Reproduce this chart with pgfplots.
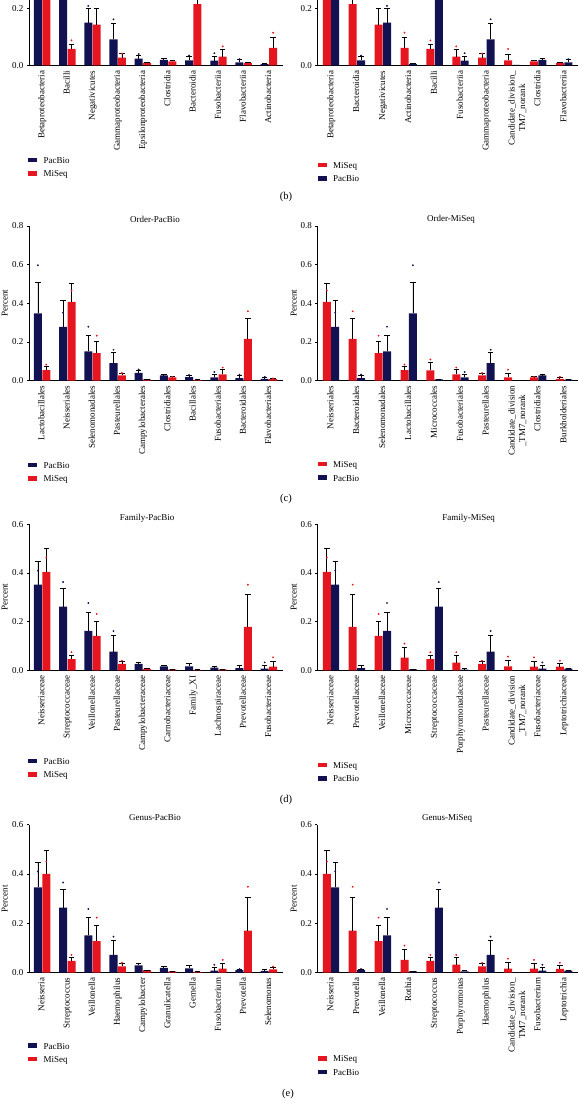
\documentclass[border=0pt]{standalone}
\usepackage{pgfplots}
\pgfplotsset{compat=1.18}
\usepackage{pgfplotstable}
\usepackage{fontspec}
\setmainfont{Liberation Serif}
\definecolor{navyc}{RGB}{18,18,82}
\definecolor{redc}{RGB}{230,22,32}

% ---------------- Class ----------------
\pgfplotstableread{
x y e d
0 0.350 0.100 nan
1 0.360 0.120 nan
2 0.150 0.050 0.209
3 0.092 0.056 0.162
4 0.024 0.012 0.040
5 0.020 0.005 nan
6 0.018 0.013 0.035
7 0.017 0.016 0.043
8 0.011 0.010 0.022
9 0.005 0.002 nan
}\ClLP
\pgfplotstableread{
x y e d
0 0.410 0.090 nan
1 0.058 0.017 0.088
2 0.143 0.057 nan
3 0.028 0.013 0.042
4 0.009 0.002 nan
5 0.014 0.004 nan
6 0.215 0.110 nan
7 0.031 0.026 0.067
8 0.008 0.004 nan
9 0.062 0.038 0.115
}\ClLM
\pgfplotstableread{
x y e d
0 0.410 0.090 nan
1 0.215 0.110 nan
2 0.143 0.057 nan
3 0.062 0.038 0.115
4 0.058 0.017 0.088
5 0.031 0.026 0.067
6 0.028 0.013 0.042
7 0.018 0.022 0.058
8 0.014 0.004 nan
9 0.008 0.004 nan
}\ClRM
\pgfplotstableread{
x y e d
0 0.350 0.100 nan
1 0.018 0.013 0.035
2 0.150 0.050 0.209
3 0.005 0.002 nan
4 0.360 0.120 nan
5 0.017 0.016 0.043
6 0.092 0.056 0.162
7 0.002 0.000 nan
8 0.020 0.005 nan
9 0.011 0.010 0.022
}\ClRP
% ---------------- Order ----------------
\pgfplotstableread{
x y e d
0 0.348 0.159 0.597
1 0.278 0.135 0.352
2 0.152 0.082 0.279
3 0.091 0.057 0.160
4 0.040 0.015 0.058
5 0.028 0.002 nan
6 0.018 0.010 0.030
7 0.017 0.016 0.045
8 0.013 0.012 0.032
9 0.009 0.010 0.020
}\OrLP
\pgfplotstableread{
x y e d
0 0.055 0.017 0.083
1 0.407 0.095 0.466
2 0.143 0.059 0.233
3 0.028 0.011 0.040
4 0.007 0.002 nan
5 0.017 0.004 0.020
6 0.004 0.001 nan
7 0.033 0.025 0.068
8 0.216 0.106 0.359
9 0.008 0.004 0.012
}\OrLM
\pgfplotstableread{
x y e d
0 0.407 0.095 0.466
1 0.216 0.106 0.359
2 0.143 0.059 0.233
3 0.055 0.017 0.083
4 0.053 0.040 0.110
5 0.033 0.025 0.068
6 0.028 0.011 0.040
7 0.017 0.023 0.057
8 0.017 0.004 0.020
9 0.010 0.008 0.020
}\OrRM
\pgfplotstableread{
x y e d
0 0.278 0.135 0.352
1 0.013 0.012 0.032
2 0.152 0.082 0.279
3 0.348 0.159 0.597
4 0.007 0.002 nan
5 0.017 0.016 0.045
6 0.091 0.057 0.160
7 0.002 0.000 nan
8 0.028 0.002 nan
9 0.006 0.001 nan
}\OrRP
% ---------------- Family ----------------
\pgfplotstableread{
x y e d
0 0.352 0.096 0.410
1 0.262 0.075 0.363
2 0.163 0.074 0.277
3 0.077 0.066 0.162
4 0.027 0.008 nan
5 0.017 0.005 nan
6 0.017 0.011 nan
7 0.012 0.006 nan
8 0.010 0.010 nan
9 0.008 0.014 0.033
}\FaLP
\pgfplotstableread{
x y e d
0 0.405 0.096 0.464
1 0.047 0.014 0.075
2 0.142 0.058 0.232
3 0.027 0.010 0.040
4 0.007 0.002 nan
5 0.005 0.001 nan
6 0.003 0.001 nan
7 0.005 0.001 nan
8 0.179 0.132 0.352
9 0.016 0.022 0.054
}\FaLM
\pgfplotstableread{
x y e d
0 0.405 0.096 0.464
1 0.179 0.132 0.352
2 0.142 0.058 0.232
3 0.053 0.040 0.110
4 0.047 0.014 0.075
5 0.032 0.029 0.075
6 0.027 0.010 0.040
7 0.017 0.023 0.057
8 0.016 0.022 0.054
9 0.016 0.014 0.040
}\FaRM
\pgfplotstableread{
x y e d
0 0.352 0.096 0.410
1 0.010 0.010 nan
2 0.163 0.074 0.277
3 0.005 0.001 nan
4 0.262 0.075 0.363
5 0.004 0.004 nan
6 0.077 0.066 0.162
7 0.002 0.000 nan
8 0.008 0.014 0.033
9 0.008 0.001 nan
}\FaRP
% ---------------- Genus ----------------
\pgfplotstableread{
x y e d
0 0.345 0.100 0.410
1 0.263 0.075 0.365
2 0.151 0.071 0.258
3 0.072 0.060 0.146
4 0.030 0.008 nan
5 0.020 0.005 nan
6 0.018 0.010 nan
7 0.008 0.014 0.032
8 0.010 0.005 0.015
9 0.007 0.005 nan
}\GeLP
\pgfplotstableread{
x y e d
0 0.400 0.095 0.450
1 0.048 0.015 0.072
2 0.128 0.065 0.223
3 0.026 0.012 0.040
4 0.010 0.001 nan
5 0.005 0.001 nan
6 0.003 0.001 nan
7 0.016 0.022 0.052
8 0.170 0.133 0.348
9 0.013 0.008 0.025
}\GeLM
\pgfplotstableread{
x y e d
0 0.400 0.095 0.450
1 0.170 0.133 0.348
2 0.128 0.065 0.223
3 0.052 0.041 0.110
4 0.048 0.015 0.072
5 0.033 0.028 0.072
6 0.026 0.012 0.040
7 0.017 0.023 0.057
8 0.016 0.022 0.052
9 0.015 0.015 0.040
}\GeRM
\pgfplotstableread{
x y e d
0 0.345 0.100 0.410
1 0.010 0.005 0.015
2 0.151 0.071 0.258
3 0.005 0.001 nan
4 0.263 0.075 0.365
5 0.005 0.005 nan
6 0.072 0.060 0.146
7 0.002 0.000 nan
8 0.008 0.014 0.032
9 0.008 0.002 nan
}\GeRP

\pgfplotsset{
  errs/.style={error bars/y dir=plus, error bars/y explicit,
    error bars/error mark=|,
    error bars/error bar style={draw=black, solid, line width=0.8pt},
    error bars/error mark options={draw=black, solid, line width=0.8pt, mark size=2.7pt}},
  pbar/.style={ybar, bar width=8pt, bar shift=0pt, xshift=#1, fill=navyc, draw=none, errs,
    legend image code/.code={\fill[navyc, xshift={-1*(#1)}] (0pt,-0.8pt) rectangle (9pt,3.8pt);}},
  mbar/.style={ybar, bar width=8pt, bar shift=0pt, xshift=#1, fill=redc, draw=none, errs,
    legend image code/.code={\fill[redc, xshift={-1*(#1)}] (0pt,-0.8pt) rectangle (9pt,3.8pt);}},
  pdot/.style={only marks, mark=*, mark size=0.7pt, color=navyc, xshift=#1, forget plot},
  mdot/.style={only marks, mark=*, mark size=0.7pt, color=redc, xshift=#1, forget plot},
  panel/.style={scale only axis, anchor=south west, axis lines*=left, ymin=0,
    font=\fontsize{9}{10.5}\selectfont,
    axis line style={black, line width=0.7pt},
    xtick={0,...,9}, xtick style={draw=none}, tick align=outside, major tick length=2pt,
    ytick style={black, line width=0.6pt}, ytick distance=0.2,
    yticklabel style={/pgf/number format/.cd, fixed, fixed zerofill, precision=1, assume math mode=true},
    xticklabel style={yshift=-3pt, rotate=90, anchor=mid east, inner sep=0pt},
    ylabel=Percent,
    legend cell align=left,
    legend style={draw=none, fill=none, inner sep=0pt, anchor=north west,
      row sep=4pt, column sep=6pt,
      nodes={inner sep=0.5pt, text height=6.3pt, text depth=2.2pt, anchor=west}},
  },
  lp/.style={panel, at={(29pt,#1)}, width=254pt, xmin=-0.52, xmax=9.56,
    ylabel style={at={(axis description cs:-0.0957,0.5)}, anchor=center}},
  rp/.style={panel, at={(317.3pt,#1)}, width=261pt, xmin=-0.53, xmax=9.55,
    ylabel style={at={(axis description cs:-0.0904,0.5)}, anchor=center}},
}

\newcommand{\cand}[1]{\begin{tabular}[t]{@{}c@{}}#1\end{tabular}}

\begin{document}
\begin{tikzpicture}[x=1pt,y=1pt]
\begin{scope}
\clip (0pt,0pt) rectangle (578pt,1110pt);

% ===== Class =====
\begin{axis}[lp=1044.5pt, height=171pt, ymax=0.6,
  xticklabels={Betaproteobacteria,Bacilli,Negativicutes,Gammaproteobacteria,Epsilonproteobacteria,Clostridia,Bacteroidia,Fusobacteriia,Flavobacteriia,Actinobacteria},
  legend style={at={(axis description cs:-0.004,-0.532)}}]
\addplot[pbar=-4.2pt] table[x=x,y=y,y error=e]{\ClLP};
\addplot[mbar=4.2pt] table[x=x,y=y,y error=e]{\ClLM};
\addplot[pdot=-4.2pt] table[x=x,y=d]{\ClLP};
\addplot[mdot=4.2pt] table[x=x,y=d]{\ClLM};
\legend{PacBio,MiSeq}
\end{axis}
\begin{axis}[rp=1044.5pt, height=171pt, ymax=0.6,
  xticklabels={Betaproteobacteria,Bacteroidia,Negativicutes,Actinobacteria,Bacilli,Fusobacteriia,Gammaproteobacteria,{\cand{Candidate\_division\_\\TM7\_norank}},Clostridia,Flavobacteriia},
  legend style={at={(axis description cs:0.0,-0.561)}}]
\addplot[mbar=-4.2pt] table[x=x,y=y,y error=e]{\ClRM};
\addplot[pbar=4.2pt] table[x=x,y=y,y error=e]{\ClRP};
\addplot[mdot=-4.2pt] table[x=x,y=d]{\ClRM};
\addplot[pdot=4.2pt] table[x=x,y=d]{\ClRP};
\legend{MiSeq,PacBio}
\end{axis}

% ===== Order =====
\begin{axis}[lp=729.3pt, height=154.7pt, ymax=0.8,
  xticklabels={Lactobacillales,Neisseriales,Selenomonadales,Pasteurellales,Campylobacterales,Clostridiales,Bacillales,Fusobacteriales,Bacteroidales,Flavobacteriales},
  legend style={at={(axis description cs:-0.004,-0.522)}}]
\addplot[pbar=-4.2pt] table[x=x,y=y,y error=e]{\OrLP};
\addplot[mbar=4.2pt] table[x=x,y=y,y error=e]{\OrLM};
\addplot[pdot=-4.2pt] table[x=x,y=d]{\OrLP};
\addplot[mdot=4.2pt] table[x=x,y=d]{\OrLM};
\legend{PacBio,MiSeq}
\end{axis}
\begin{axis}[rp=729.3pt, height=154.7pt, ymax=0.8,
  xticklabels={Neisseriales,Bacteroidales,Selenomonadales,Lactobacillales,Micrococcales,Fusobacteriales,Pasteurellales,{\cand{Candidate\_division\\\_TM7\_norank}},Clostridiales,Burkholderiales},
  legend style={at={(axis description cs:0.0,-0.516)}}]
\addplot[mbar=-4.2pt] table[x=x,y=y,y error=e]{\OrRM};
\addplot[pbar=4.2pt] table[x=x,y=y,y error=e]{\OrRP};
\addplot[mdot=-4.2pt] table[x=x,y=d]{\OrRM};
\addplot[pdot=4.2pt] table[x=x,y=d]{\OrRP};
\legend{MiSeq,PacBio}
\end{axis}

% ===== Family =====
\begin{axis}[lp=439.5pt, height=146.2pt, ymax=0.6,
  xticklabels={Neisseriaceae,Streptococcaceae,Veillonellaceae,Pasteurellaceae,Campylobacteraceae,Carnobacteriaceae,Family\_XI,Lachnospiraceae,Prevotellaceae,Fusobacteriaceae},
  legend style={at={(axis description cs:-0.004,-0.595)}}]
\addplot[pbar=-4.2pt] table[x=x,y=y,y error=e]{\FaLP};
\addplot[mbar=4.2pt] table[x=x,y=y,y error=e]{\FaLM};
\addplot[pdot=-4.2pt] table[x=x,y=d]{\FaLP};
\addplot[mdot=4.2pt] table[x=x,y=d]{\FaLM};
\legend{PacBio,MiSeq}
\end{axis}
\begin{axis}[rp=439.5pt, height=146.2pt, ymax=0.6,
  xticklabels={Neisseriaceae,Prevotellaceae,Veillonellaceae,Micrococcaceae,Streptococcaceae,Porphyromonadaceae,Pasteurellaceae,{\cand{Candidate\_division\\\_TM7\_norank}},Fusobacteriaceae,Leptotrichiaceae},
  legend style={at={(axis description cs:0.0,-0.622)}}]
\addplot[mbar=-4.2pt] table[x=x,y=y,y error=e]{\FaRM};
\addplot[pbar=4.2pt] table[x=x,y=y,y error=e]{\FaRP};
\addplot[mdot=-4.2pt] table[x=x,y=d]{\FaRM};
\addplot[pdot=4.2pt] table[x=x,y=d]{\FaRP};
\legend{MiSeq,PacBio}
\end{axis}

% ===== Genus =====
\begin{axis}[lp=137.3pt, height=148.2pt, ymax=0.6,
  xticklabels={Neisseria,Streptococcus,Veillonella,Haemophilus,Campylobacter,Granulicatella,Gemella,Fusobacterium,Prevotella,Selenomonas},
  legend style={at={(axis description cs:-0.004,-0.468)}}]
\addplot[pbar=-4.2pt] table[x=x,y=y,y error=e]{\GeLP};
\addplot[mbar=4.2pt] table[x=x,y=y,y error=e]{\GeLM};
\addplot[pdot=-4.2pt] table[x=x,y=d]{\GeLP};
\addplot[mdot=4.2pt] table[x=x,y=d]{\GeLM};
\legend{PacBio,MiSeq}
\end{axis}
\begin{axis}[rp=137.3pt, height=148.2pt, ymax=0.6,
  xticklabels={Neisseria,Prevotella,Veillonella,Rothia,Streptococcus,Porphyromonas,Haemophilus,{\cand{Candidate\_division\_\\TM7\_norank}},Fusobacterium,Leptotrichia},
  legend style={at={(axis description cs:0.0,-0.555)}}]
\addplot[mbar=-4.2pt] table[x=x,y=y,y error=e]{\GeRM};
\addplot[pbar=4.2pt] table[x=x,y=y,y error=e]{\GeRP};
\addplot[mdot=-4.2pt] table[x=x,y=d]{\GeRM};
\addplot[pdot=4.2pt] table[x=x,y=d]{\GeRP};
\legend{MiSeq,PacBio}
\end{axis}

% ===== titles and panel letters =====
\begin{scope}[every node/.style={font=\fontsize{9}{10}\selectfont}]
\node at (155pt,891pt) {Order-PacBio};
\node at (451pt,891pt) {Order-MiSeq};
\node at (147pt,591.3pt) {Family-PacBio};
\node at (468.7pt,591.3pt) {Family-MiSeq};
\node at (155pt,292pt) {Genus-PacBio};
\node at (447pt,292pt) {Genus-MiSeq};
\node[anchor=north] at (158pt,2.5pt) {Species-PacBio};
\node[anchor=north] at (454pt,2.5pt) {Species-MiSeq};
\end{scope}
\begin{scope}[every node/.style={font=\fontsize{10.5}{12}\selectfont}]
\node at (286pt,913pt) {(b)};
\node at (286pt,611pt) {(c)};
\node at (286pt,310pt) {(d)};
\node at (288pt,16pt) {(e)};
\end{scope}
\end{scope}
\pgfresetboundingbox
\useasboundingbox (0pt,0pt) rectangle (578pt,1110pt);
\end{tikzpicture}
\end{document}
